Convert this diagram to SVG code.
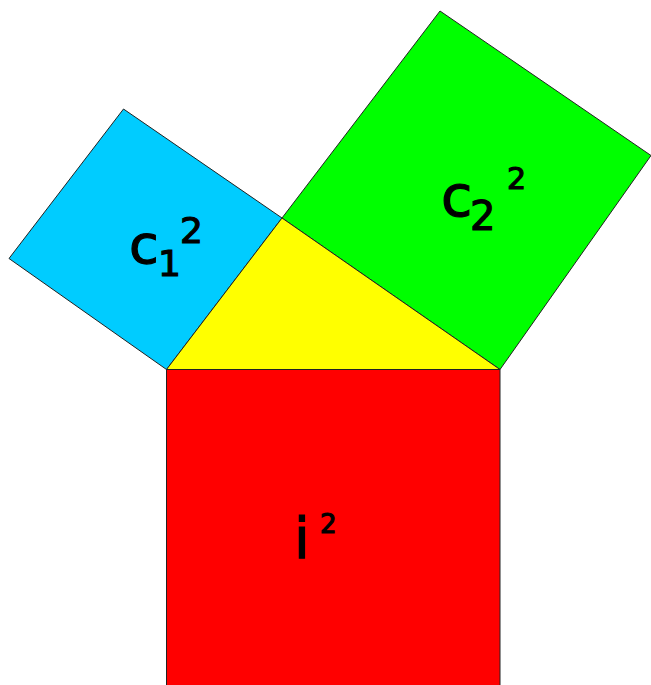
<svg xmlns="http://www.w3.org/2000/svg" width="651" height="685" viewBox="0 0 651 685">
<style>
.sh{stroke:#222;stroke-width:1;stroke-linejoin:miter}
.t{font-family:"DejaVu Sans","Liberation Sans",sans-serif;fill:#000;stroke:#000;stroke-width:1.2}
</style>
<rect width="651" height="685" fill="#fff"/>
<g id="square-c1">
<polygon class="sh" fill="#00ccff" points="123.5,109 9,258.5 166.5,369.5 282,218"/>
<text class="t" x="129" y="263" font-size="54">c</text>
<text class="t" x="158" y="276" font-size="36">1</text>
<text class="t" x="180" y="243" font-size="36">2</text>
</g>
<g id="square-c2">
<polygon class="sh" fill="#00ff00" points="440,11 651,155.5 500,369.5 282,218"/>
<text class="t" x="441" y="216" font-size="57">c</text>
<text class="t" x="470" y="230" font-size="40">2</text>
<text class="t" x="507" y="189" font-size="30">2</text>
</g>
<g id="square-i">
<rect class="sh" fill="#ff0000" x="166.5" y="369.5" width="333.5" height="340"/>
<text class="t" x="294" y="558" font-size="57">i</text>
<text class="t" x="320" y="533" font-size="26">2</text>
</g>
<g id="triangle">
<polygon class="sh" fill="#ffff00" points="166.5,369.5 500,369.5 282,218"/>
</g>
</svg>
